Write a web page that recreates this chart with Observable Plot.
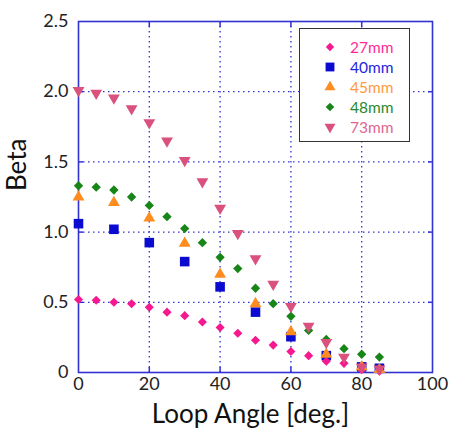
<!DOCTYPE html>
<html><head><meta charset="utf-8">
<script src="https://cdn.jsdelivr.net/npm/d3@7"></script>
<script src="https://cdn.jsdelivr.net/npm/@observablehq/plot@0.6"></script>
<style>
body{margin:0;background:#fff;font-family:Lato,"Open Sans",sans-serif}
#wrap{position:relative;width:449px;height:432px}
#legend{position:absolute;left:299px;top:28px;width:111px;height:114px;border:1.5px solid #333;background:#fff;box-sizing:border-box}
.row{position:absolute;left:0;height:20px;display:flex;align-items:center;font-size:15.5px}
.row svg{margin-left:24px;margin-right:14px}
</style></head><body><div id="wrap"><div id="chart"></div><div id="legend"></div></div>
<script>
const series = ["27mm","40mm","45mm","48mm","73mm"];
const colors = ["#f5188e","#0a0ad0","#ff8c1e","#178517","#d9517c"];
const textColors = ["#ff2b95","#2525e0","#ff9a3c","#2a8a2a","#e06690"];

const angles27 = [0,5,10,15,20,25,30,35,40,45,50,55,60,65,70,75,80,85];
const beta27   = [0.52,0.515,0.50,0.49,0.465,0.43,0.405,0.36,0.32,0.28,0.23,0.195,0.15,0.12,0.08,0.065,0.02,0.01];
const angles40 = [0,10,20,30,40,50,60,70,80,85];
const beta40   = [1.06,1.02,0.925,0.79,0.61,0.43,0.255,0.12,0.04,0.03];
const angles45 = [0,10,20,30,40,50,60,70,80,85];
const beta45   = [1.25,1.21,1.10,0.92,0.70,0.49,0.29,0.13,0.04,0.02];
const angles48 = [0,5,10,15,20,25,30,35,40,45,50,55,60,65,70,75,80,85];
const beta48   = [1.33,1.32,1.30,1.25,1.19,1.11,1.025,0.925,0.82,0.74,0.60,0.49,0.40,0.30,0.235,0.17,0.13,0.11];
const angles73 = [0,5,10,15,20,25,30,35,40,45,50,55,60,65,70,75,80,85];
const beta73   = [2.01,1.99,1.955,1.88,1.78,1.65,1.51,1.36,1.17,0.99,0.81,0.63,0.47,0.33,0.215,0.11,0.04,0.025];

const xTicks = [0,20,40,60,80,100];
const yTicks = [0,0.5,1.0,1.5,2.0,2.5];

const sqrt3 = Math.sqrt(3);
const triangleDown = {draw(ctx, size){
  const y = -Math.sqrt(size / (sqrt3 * 3));
  ctx.moveTo(0, -y * 2);
  ctx.lineTo(-sqrt3 * y, y);
  ctx.lineTo(sqrt3 * y, y);
  ctx.closePath();
}};
const symbols = [d3.symbolDiamond2, d3.symbolSquare, d3.symbolTriangle, d3.symbolDiamond2, triangleDown];
const radii = [4.1, 5.4, 4.4, 4.2, 4.4];

const mk = (xs, ys) => xs.map((x,i)=>({x, y: ys[i]}));
const data = [mk(angles27,beta27), mk(angles40,beta40), mk(angles45,beta45), mk(angles48,beta48), mk(angles73,beta73)];
const order = [1,0,2,3,4];

const blue = "#3232d2";
const chart = Plot.plot({
  width: 449, height: 432,
  marginLeft: 78, marginRight: 17, marginTop: 21, marginBottom: 60,
  style: {fontFamily: "Lato, 'Open Sans', sans-serif", color: "#222", background: "#fff"},
  x: {domain: [0,100]},
  y: {domain: [0,2.5]},
  marks: [
    Plot.gridX(xTicks.slice(1,-1), {stroke: blue, strokeOpacity: 1, strokeWidth: 1.3, strokeDasharray: "1.5,3.5"}),
    Plot.gridY(yTicks.slice(1,-1), {stroke: blue, strokeOpacity: 1, strokeWidth: 1.3, strokeDasharray: "1.5,3.5"}),
    Plot.axisX({ticks: xTicks, tickSize: 0, tickPadding: 5, fontSize: 18, label: null, tickFormat: d => String(d)}),
    Plot.axisY({ticks: yTicks, tickSize: 0, tickPadding: 10, fontSize: 18, label: null, tickFormat: d => d === 0 ? "0" : d.toFixed(1)}),
    Plot.axisX({anchor: "top", ticks: xTicks.slice(1,-1), tickSize: -5, stroke: blue, strokeWidth: 1.5, tickFormat: () => "", label: null}),
    Plot.axisX({anchor: "bottom", ticks: xTicks.slice(1,-1), tickSize: -5, stroke: blue, strokeWidth: 1.5, tickFormat: () => "", label: null}),
    Plot.axisY({anchor: "right", ticks: yTicks.slice(1,-1), tickSize: -5, stroke: blue, strokeWidth: 1.5, tickFormat: () => "", label: null}),
    Plot.axisY({anchor: "left", ticks: yTicks.slice(1,-1), tickSize: -5, stroke: blue, strokeWidth: 1.5, tickFormat: () => "", label: null}),
    Plot.frame({stroke: blue, strokeWidth: 1.6}),
    ...order.map(i => Plot.dot(data[i], {x: "x", y: "y", symbol: () => symbols[i], r: radii[i], fill: colors[i], stroke: "none"})),
    Plot.text(["Loop Angle [deg.]"], {frameAnchor: "bottom", lineAnchor: "middle", dy: 42, dx: -5, fontSize: 26, fill: "#111"}),
    Plot.text(["Beta"], {frameAnchor: "left", lineAnchor: "middle", rotate: -90, dx: -61, dy: -6, fontSize: 26, fill: "#111"})
  ]
});
document.getElementById("chart").appendChild(chart);

const legend = document.getElementById("legend");
series.forEach((name, i) => {
  const row = document.createElement("div");
  row.className = "row";
  row.style.top = (8 + i * 20) + "px";
  const size = Math.PI * radii[i] * radii[i] * 0.85;
  const path = d3.symbol(symbols[i], size)();
  row.innerHTML = `<svg width="12" height="12" viewBox="-6 -6 12 12"><path d="${path}" fill="${colors[i]}"/></svg><span style="color:${textColors[i]}">${name}</span>`;
  legend.appendChild(row);
});
</script>
</body></html>
